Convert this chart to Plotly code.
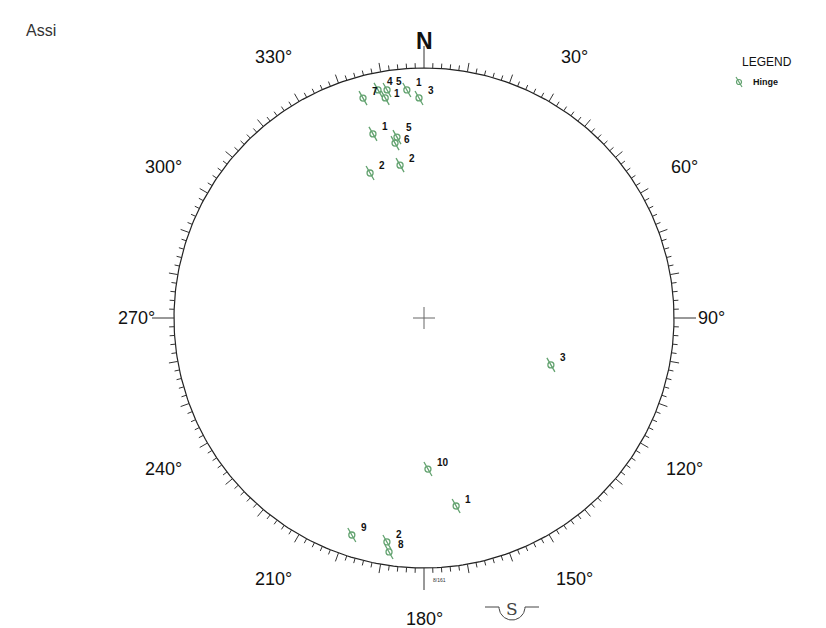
import numpy as np
import plotly.graph_objects as go

# ---------------- data (hinge lineations: trend / plunge, degrees) ----------------
trend = [344.5, 348.6, 350.8, 350.0, 355.7, 358.7,
         344.5, 351.5, 350.6, 339.6, 351.1,
         110.3, 178.5, 170.3, 198.4, 189.4, 188.5]
plunge = [9.6, 7.7, 8.4, 11.6, 9.4, 13.0,
          24.6, 27.7, 29.8, 38.1, 38.1,
          45.0, 39.4, 24.7, 9.4, 10.1, 6.0]
point_labels = ["7", "4", "5", "1", "1", "3",
                "1", "5", "6", "2", "2",
                "3", "10", "1", "9", "2", "8"]

dir_ticks = [330, 30, 300, 60, 270, 90, 240, 120, 210, 150, 180]
dir_text = ["330°", "30°", "300°", "60°", "270°", "90°", "240°", "120°", "210°", "150°", "180°"]

# label vertical nudges (pixels) to keep crowded labels legible
label_dy = [7, 8, 8, 4, 7, 7,
            7, 10, 4, 7, 7,
            7, 7, 7, 7, 7, 7]

GREEN = "#62a26f"
PX = 1 / 250.0  # one pixel in data units (radius of net = 1)


def project(tr, pl):
    tr = np.radians(np.asarray(tr, float))
    pl = np.radians(np.asarray(pl, float))
    r = np.sqrt(2) * np.sin((np.pi / 2 - pl) / 2)  # Schmidt equal-area
    return r * np.sin(tr), r * np.cos(tr)


fig = go.Figure()

# primitive circle
th = np.radians(np.arange(0, 361, 1))
fig.add_trace(go.Scatter(x=np.sin(th), y=np.cos(th), mode="lines",
                         line=dict(color="#222", width=1.2), hoverinfo="skip"))

# ticks (every 2°, longer every 10°, long at cardinals)
tx, ty = [], []
for d in range(0, 360, 2):
    L = 22 if d % 90 == 0 else (9 if d % 10 == 0 else 5)
    a = np.radians(d)
    tx += [np.sin(a), (1 + L * PX) * np.sin(a), None]
    ty += [np.cos(a), (1 + L * PX) * np.cos(a), None]
fig.add_trace(go.Scatter(x=tx, y=ty, mode="lines",
                         line=dict(color="#333", width=1), hoverinfo="skip"))

# centre cross
c = 11 * PX
fig.add_trace(go.Scatter(x=[-c, c, None, 0, 0], y=[0, 0, None, -c, c], mode="lines",
                         line=dict(color="#666", width=1), hoverinfo="skip"))

# hinge symbols
px_, py_ = project(trend, plunge)
sx, sy = [], []
for x0, y0 in zip(px_, py_):
    sx += [x0 - 4 * PX, x0 + 4 * PX, None]
    sy += [y0 + 7 * PX, y0 - 7 * PX, None]
fig.add_trace(go.Scatter(x=sx, y=sy, mode="lines",
                         line=dict(color=GREEN, width=1.3), hoverinfo="skip"))
fig.add_trace(go.Scatter(x=px_, y=py_, mode="markers",
                         marker=dict(symbol="circle-open", size=6, color=GREEN,
                                     line=dict(width=1.3, color=GREEN))))

for x0, y0, t, dy in zip(px_, py_, point_labels, label_dy):
    fig.add_annotation(x=x0, y=y0, text="<b>" + t + "</b>", showarrow=False, xanchor="left",
                       yanchor="middle", xshift=7, yshift=dy,
                       font=dict(family="Liberation Sans, Arial", size=10, color="#111"))

# direction labels
for d, t in zip(dir_ticks, dir_text):
    rr = 1.15 if d in (90, 270) else 1.205
    a = np.radians(d)
    fig.add_annotation(x=rr * np.sin(a), y=rr * np.cos(a), text=t, showarrow=False,
                       font=dict(family="Liberation Sans, Arial", size=18, color="#111"))
fig.add_annotation(x=0, y=1.11, text="<b>N</b>", showarrow=False,
                   font=dict(family="Liberation Sans, Arial", size=23, color="#111"))

# small label near south
fig.add_annotation(x=7 * PX, y=-1.048, text="8/161", showarrow=False, xanchor="left",
                   font=dict(family="Liberation Sans, Arial", size=5, color="#333"))

# S symbol below 180°
cx, cy, rad = (512 - 424) * PX, (318 - 607) * PX, 13 * PX
arc = np.linspace(np.pi, 2 * np.pi, 30)
sxs = [cx - 27 * PX, cx - rad] + list(cx + rad * np.cos(arc)) + [cx + rad, cx + 27 * PX]
sys_ = [cy, cy] + list(cy + rad * np.sin(arc)) + [cy, cy]
fig.add_trace(go.Scatter(x=sxs, y=sys_, mode="lines",
                         line=dict(color="#444", width=1), hoverinfo="skip"))
fig.add_annotation(x=cx, y=cy - 2 * PX, text="S", showarrow=False,
                   font=dict(family="DejaVu Serif", size=17, color="#444"))

# legend (drawn manually)
lx, ly = (739 - 424) * PX, (318 - 82) * PX
fig.add_trace(go.Scatter(x=[lx - 3 * PX, lx + 3 * PX], y=[ly + 5 * PX, ly - 5 * PX], mode="lines",
                         line=dict(color=GREEN, width=1.2), hoverinfo="skip"))
fig.add_trace(go.Scatter(x=[lx], y=[ly], mode="markers",
                         marker=dict(symbol="circle-open", size=5, color=GREEN,
                                     line=dict(width=1.2, color=GREEN))))
fig.add_annotation(x=(740 - 424) * PX, y=(318 - 62) * PX, text="LEGEND", showarrow=False,
                   xanchor="left", font=dict(family="Liberation Sans, Arial", size=12, color="#111"))
fig.add_annotation(x=(751 - 424) * PX, y=ly, text="<b>Hinge</b>", showarrow=False,
                   xanchor="left", font=dict(family="Liberation Sans, Arial", size=9, color="#111"))

# title-like tag
fig.add_annotation(x=(24 - 424) * PX, y=(318 - 30) * PX, text="Assi", showarrow=False,
                   xanchor="left", font=dict(family="Liberation Sans, Arial", size=16, color="#333"))

fig.update_layout(
    width=826, height=628, margin=dict(l=0, r=0, t=0, b=0),
    paper_bgcolor="white", plot_bgcolor="white", showlegend=False,
    xaxis=dict(range=[-424 * PX, (826 - 424) * PX], visible=False, fixedrange=True),
    yaxis=dict(range=[(318 - 628) * PX, 318 * PX], visible=False, fixedrange=True),
)
fig.write_html("out.html", config={"displayModeBar": False},
               post_script="document.body.style.margin='0';document.body.style.overflow='hidden';")
